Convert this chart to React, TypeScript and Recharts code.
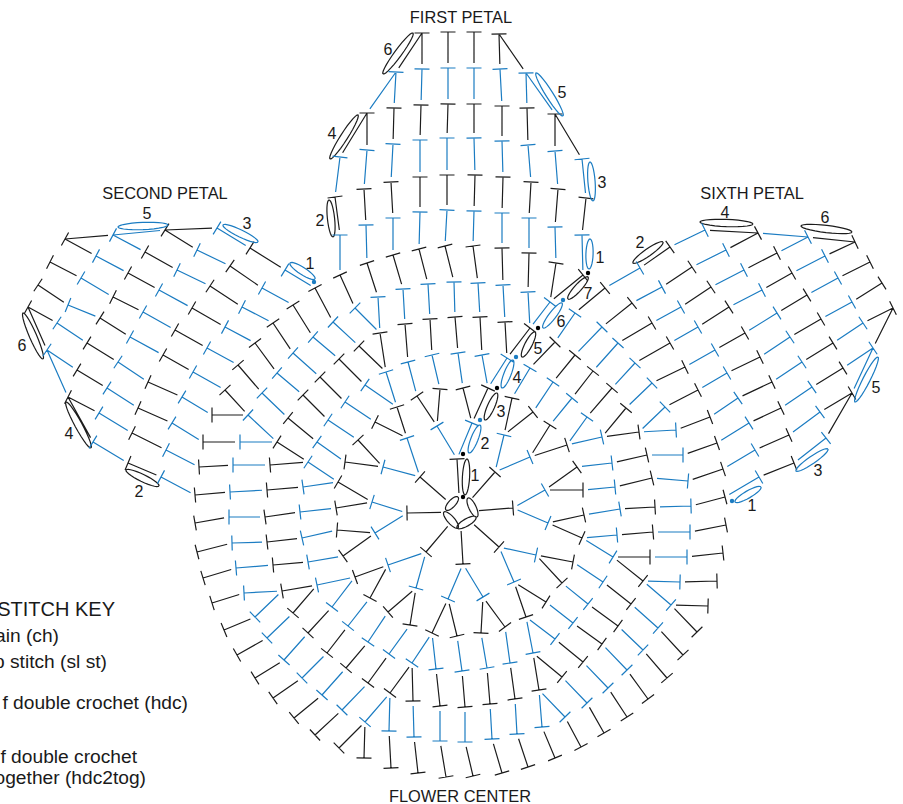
import React from "react";
import { ComposedChart, Line, Scatter, XAxis, YAxis } from "recharts";

type P = number[];

const flowerCenter: P = [460, 512];

// Heads of the stitches of each round
const round1: P[] = [[457,459],[420,477],[407,513],[426,552],[463,564],[499,547],[513,508],[495,472]];
const round2: P[] = [[437,426],[407,438],[383,467],[372,502],[375,533],[388,565],[416,588],[448,599],[483,597],[514,582],[536,555],[548,523],[545,490],[530,457],[504,435],[472,423]];
const round3: P[] = [[463,388],[440,389],[417,396],[397,407],[375,422],[358,440],[345,462],[338,482],[336,508],[337,530],[343,556],[355,577],[370,598],[388,612],[410,625],[432,633],[457,636],[481,633],[505,627],[526,617],[546,602],[562,583],[573,562],[582,538],[584,515],[583,490],[577,467],[567,445],[550,425],[533,412],[512,398],[488,388]];
const round4: P[] = [[458,353],[432,355],[408,362],[386,372],[365,385],[345,402],[328,420],[317,442],[308,462],[303,487],[300,512],[302,538],[308,562],[317,585],[332,607],[348,626],[368,642],[389,654],[412,663],[436,669],[462,671],[487,668],[510,663],[533,653],[555,639],[573,623],[588,604],[603,582],[613,557],[617,535],[620,509],[615,487],[612,463],[602,437],[587,417],[572,398],[553,382],[530,368],[507,358],[482,355]];
const round5: P[] = [[455,317],[430,319],[405,324],[380,333],[359,346],[339,359],[320,377],[303,395],[288,418],[277,442],[270,465],[267,490],[265,517],[267,542],[273,565],[282,591],[293,613],[308,633],[327,653],[346,668],[368,683],[390,693],[413,701],[440,706],[465,707],[490,704],[515,699],[539,690],[562,677],[583,662],[602,644],[618,626],[631,604],[643,581],[650,557],[653,532],[655,507],[652,478],[647,455],[639,432],[626,408],[612,388],[593,371],[575,355],[555,342],[530,328],[505,322],[480,317]];
const round6: P[] = [[454,282],[428,284],[403,289],[378,297],[355,308],[333,322],[313,337],[293,353],[277,373],[262,393],[248,415],[240,442],[233,465],[230,492],[229,517],[232,543],[236,568],[244,593],[255,617],[267,638],[284,660],[302,678],[322,695],[342,710],[365,722],[389,731],[414,737],[440,741],[465,742],[492,739],[517,734],[542,727],[565,717],[587,703],[608,688],[627,670],[643,650],[658,628],[671,605],[680,582],[687,557],[690,532],[691,506],[688,481],[683,455],[676,430],[665,407],[652,383],[635,363],[618,343],[602,327],[575,313],[550,302],[528,292],[503,285],[478,283]];
const round7: P[] = [[445,246],[419,249],[393,255],[367,263],[340,275],[315,288],[293,305],[273,323],[255,343],[238,365],[225,390],[212,415],[203,442],[199,467],[195,495],[195,523],[197,552],[203,578],[212,603],[224,630],[237,655],[255,678],[273,698],[294,718],[315,735],[339,748],[364,758],[391,768],[418,773],[446,777],[473,776],[502,773],[528,767],[555,758],[581,747],[604,733],[627,717],[648,699],[667,678],[683,655],[697,632],[708,606],[717,581],[723,553],[726,525],[725,497],[723,469],[717,443],[710,417],[698,390],[685,367],[670,343],[652,323],[632,303],[605,288],[583,275],[556,263],[529,253],[502,248],[473,246]];

// Stitches that do not grow out of the closest stitch below them: [child x, child y, parent x, parent y]
const parentOverrides: P[] = [[708,606,671,605],[583,275,550,302],[605,288,575,313],[365,385,397,407]];

// First petal
const first8: P[] = [[340,235],[366,225],[393,218],[420,212],[447,210],[474,211],[502,213],[529,218],[555,227],[582,235]];
const first9: P[] = [[335,197],[364,189],[391,182],[420,177],[447,175],[475,175],[503,177],[531,182],[558,189],[586,198]];
const first10: P[] = [[340,157],[367,150],[393,144],[420,140],[447,138],[474,138],[502,141],[528,145],[555,151],[582,159]];
const first11: P[] = [[367,113],[394,108],[421,105],[448,104],[474,104],[502,106],[527,108],[555,114]];
const first12: P[] = [[396,72],[422,69],[448,68],[474,68],[500,69],[526,73]];
const first13: P[] = [[422,33],[448,32],[474,32],[499,34]];

// Second petal
const second8: P[] = [[161,477],[166,450],[172,423],[182,397],[193,372],[207,348],[225,327],[242,307],[262,288],[285,270]];
const second9: P[] = [[128,463],[132,433],[138,408],[148,382],[163,355],[175,330],[192,308],[210,286],[230,266],[250,248]];
const second10: P[] = [[93,442],[99,413],[107,388],[118,362],[130,337],[143,312],[159,290],[177,270],[197,250],[217,228]];
const second11: P[] = [[68,397],[77,370],[87,343],[100,318],[113,297],[128,273],[145,252],[165,230]];
const second12: P[] = [[47,350],[57,323],[68,305],[81,278],[96,256],[113,235]];
const second13: P[] = [[28,307],[38,285],[50,262],[65,239]];

// Sixth petal
const sixth8: P[] = [[640,268],[662,287],[681,307],[698,327],[715,350],[727,373],[738,398],[749,423],[755,450],[759,477]];
const sixth9: P[] = [[670,247],[692,267],[711,287],[729,307],[745,333],[760,357],[772,382],[781,408],[789,435],[794,463]];
const sixth10: P[] = [[705,230],[726,250],[744,270],[762,290],[777,313],[790,337],[802,362],[812,387],[820,412],[826,438]];
const sixth11: P[] = [[758,233],[777,253],[792,273],[807,295],[821,319],[833,343],[843,368],[852,393]];
const sixth12: P[] = [[808,237],[825,256],[838,278],[852,302],[863,323],[873,348]];
const sixth13: P[] = [[855,242],[870,262],[882,283],[893,308]];

// Where each petal's first row leaves round 7 (index into round7)
const petalStarts = { first: 4, second: 14, sixth: 54 };

// Ovals: the two ends of each chain loop
const blackOvals: P[] = [[467,459,465,495],[497,393,485,420],[535,332,522,357],[588,277,568,299],[329,200,333,237],[358,115,330,159],[413,33,383,74],[23,313,43,359],[66,402,91,448],[126,470,159,486],[633,263,663,242],[700,222,753,224],[801,226,852,232],[446,510,458,497],[468,498,477,517],[457,528,476,517],[444,512,458,528]];
const blueOvals: P[] = [[480,425,469,453],[513,360,502,388],[562,303,543,328],[590,239,589,269],[590,162,593,201],[536,73,563,116],[290,263,315,279],[223,225,258,242],[118,227,168,225],[735,502,761,487],[796,471,828,449],[855,402,878,357]];

const blackDots: P[] = [[463,497],[463,454],[497,388],[538,328],[588,273]];
const blueDots: P[] = [[480,420],[516,357],[563,300],[314,282],[732,501]];

const titles = ["FIRST PETAL", "SECOND PETAL", "SIXTH PETAL", "FLOWER CENTER"];
const titleSpots: P[] = [[461,23],[165,199],[752,199],[460,802]];
const rowNumbers = ["1","2","3","4","5","6","7","6","4","2","5","3","1","5","3","1","6","4","2","2","4","6","5","3","1"];
const rowNumberSpots: P[] = [[475,481],[485,449],[501,417],[517,383],[538,354],[561,327],[588,299],[388,55],[332,139],[320,226],[562,98],[602,188],[600,263],[147,219],[247,229],[310,269],[22,351],[69,439],[139,497],[640,248],[725,218],[825,223],[876,393],[818,476],[752,511]];
const keyTitle = ["STITCH KEY"];
const keyTitleSpots: P[] = [[115,616]];
const keyLines = ["ain (ch)","p stitch (sl st)","f double crochet (hdc)","f double crochet","ogether (hdc2tog)"];
const keySpots: P[] = [[59,642],[107,668],[188,709],[137,763],[146,784]];

const BLACK = "#1c1c1c";
const BLUE = "#1b7cc2";
const BAR = 7.5;
const GAP = 5;
const CENTER_GAP = 19;
const OVAL_HALF = 3.6;

type Pt = { x: number; y: number | null };

const nearest = (h: P, list: P[]) => {
  const forced = parentOverrides.find((o) => o[0] === h[0] && o[1] === h[1]);
  if (forced) return [forced[2], forced[3]];
  let best = list[0], bd = Infinity;
  for (const p of list) {
    const d = Math.hypot(p[0] - h[0], p[1] - h[1]);
    if (d < bd) { bd = d; best = p; }
  }
  return best;
};

const stem = (out: Pt[], h: P, parent: P, gap: number, withBar: boolean) => {
  const dx = parent[0] - h[0], dy = parent[1] - h[1];
  const L = Math.hypot(dx, dy) || 1;
  const ux = dx / L, uy = dy / L;
  out.push({ x: h[0], y: h[1] }, { x: parent[0] - ux * gap, y: parent[1] - uy * gap }, { x: h[0], y: null });
  if (withBar) {
    out.push({ x: h[0] - uy * BAR, y: h[1] + ux * BAR }, { x: h[0] + uy * BAR, y: h[1] - ux * BAR }, { x: h[0], y: null });
  }
};

const ringRow = (out: Pt[], row: P[], parents: P[], gap = GAP) => {
  row.forEach((h) => stem(out, h, nearest(h, parents), gap, true));
};

const petalRow = (out: Pt[], row: P[], parents: P[]) => {
  const off = (parents.length - row.length) / 2;
  row.forEach((h, i) => stem(out, h, parents[i + off], GAP, true));
  if (off > 0) {
    stem(out, row[0], parents[0], GAP, false);
    stem(out, row[row.length - 1], parents[parents.length - 1], GAP, false);
  }
};

const oval = (out: Pt[], o: P) => {
  const cx = (o[0] + o[2]) / 2, cy = (o[1] + o[3]) / 2;
  const a = Math.hypot(o[2] - o[0], o[3] - o[1]) / 2;
  const t = Math.atan2(o[3] - o[1], o[2] - o[0]);
  for (let i = 0; i <= 28; i++) {
    const k = (i / 28) * Math.PI * 2;
    const ex = a * Math.cos(k), ey = OVAL_HALF * Math.sin(k);
    out.push({ x: cx + ex * Math.cos(t) - ey * Math.sin(t), y: cy + ex * Math.sin(t) + ey * Math.cos(t) });
  }
  out.push({ x: cx, y: null });
};

const petalBase = (start: number) => Array.from({ length: 10 }, (_, i) => round7[(start - i + 60) % 60]);

const blackLines: Pt[] = [];
const blueLines: Pt[] = [];

ringRow(blackLines, round1, [flowerCenter], CENTER_GAP);
ringRow(blueLines, round2, round1);
ringRow(blackLines, round3, round2);
ringRow(blueLines, round4, round3);
ringRow(blackLines, round5, round4);
ringRow(blueLines, round6, round5);
ringRow(blackLines, round7, round6);

const petals: [P[][], number][] = [
  [[first8, first9, first10, first11, first12, first13], petalStarts.first],
  [[second8, second9, second10, second11, second12, second13], petalStarts.second],
  [[sixth8, sixth9, sixth10, sixth11, sixth12, sixth13], petalStarts.sixth],
];
petals.forEach(([rows, start]) => {
  rows.forEach((row, r) => {
    petalRow(r % 2 === 0 ? blueLines : blackLines, row, r === 0 ? petalBase(start) : rows[r - 1]);
  });
});
blackOvals.forEach((o) => oval(blackLines, o));
blueOvals.forEach((o) => oval(blueLines, o));

const toDots = (list: P[]) => list.map((p) => ({ x: p[0], y: p[1] }));
const toTexts = (names: string[], spots: P[]) => names.map((t, i) => ({ x: spots[i][0], y: spots[i][1], t }));

const FONT = '"Liberation Sans", Arial, sans-serif';

const textShape = (anchor: string, size: number) => (props: any) => (
  <text x={props.cx} y={props.cy} textAnchor={anchor} fontFamily={FONT} fontSize={size} fill="#1a1a1a">
    {props.payload.t}
  </text>
);
const dotShape = (color: string) => (props: any) => <circle cx={props.cx} cy={props.cy} r={2.2} fill={color} />;

export default function App() {
  return (
    <div style={{ position: "absolute", left: 0, top: 0, width: 903, height: 804, background: "#fff" }}>
      <ComposedChart width={903} height={804} margin={{ top: 0, right: 0, bottom: 0, left: 0 }}>
        <XAxis type="number" dataKey="x" domain={[0, 903]} hide allowDataOverflow />
        <YAxis type="number" dataKey="y" domain={[0, 804]} reversed hide allowDataOverflow />
        <Line data={blackLines} dataKey="y" stroke={BLACK} strokeWidth={1.2} dot={false} isAnimationActive={false} connectNulls={false} legendType="none" />
        <Line data={blueLines} dataKey="y" stroke={BLUE} strokeWidth={1.2} dot={false} isAnimationActive={false} connectNulls={false} legendType="none" />
        <Scatter data={toDots(blackDots)} shape={dotShape("#000")} isAnimationActive={false} />
        <Scatter data={toDots(blueDots)} shape={dotShape(BLUE)} isAnimationActive={false} />
        <Scatter data={toTexts(titles, titleSpots)} shape={textShape("middle", 16.4)} isAnimationActive={false} />
        <Scatter data={toTexts(rowNumbers, rowNumberSpots)} shape={textShape("middle", 16)} isAnimationActive={false} />
        <Scatter data={toTexts(keyTitle, keyTitleSpots)} shape={textShape("end", 20)} isAnimationActive={false} />
        <Scatter data={toTexts(keyLines, keySpots)} shape={textShape("end", 19.2)} isAnimationActive={false} />
      </ComposedChart>
    </div>
  );
}
